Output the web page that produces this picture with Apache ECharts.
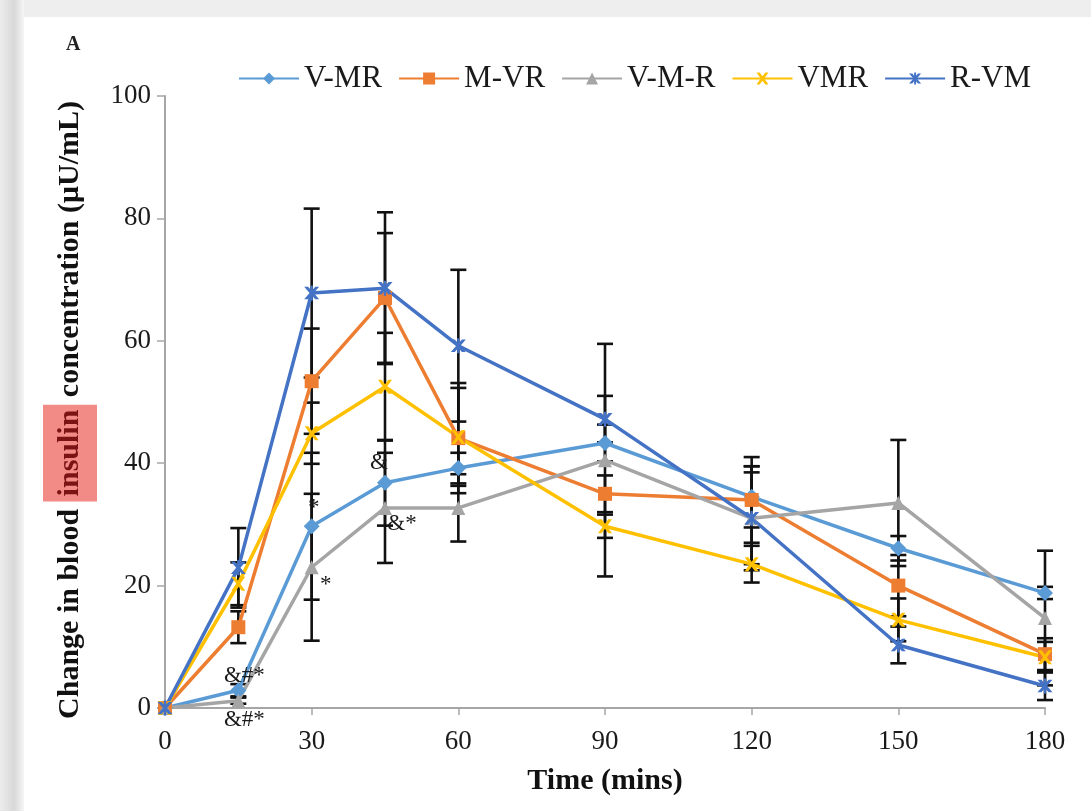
<!DOCTYPE html>
<html>
<head>
<meta charset="utf-8">
<title>Change in blood insulin concentration</title>
<script src="https://cdn.jsdelivr.net/npm/echarts@6/dist/echarts.min.js"></script>
<style>
  html, body { margin: 0; padding: 0; background: #ffffff; }
  #chart { width: 1091px; height: 811px; }
</style>
</head>
<body>
<div id="chart"></div>
<script>
// Sampling times (minutes) and axis ticks
const times = [0, 15, 30, 45, 60, 90, 120, 150, 180];
const xTicks = [0, 30, 60, 90, 120, 150, 180];
const yTicks = [0, 20, 40, 60, 80, 100];

// Group names
const seriesNames = ['V-MR', 'M-VR', 'V-M-R', 'VMR', 'R-VM'];

// Mean change in insulin (µU/mL) per group
const vMR   = [0, 2.9, 29.7, 36.8, 39.2, 43.3, 34.5, 26.1, 18.8];
const mVR   = [0, 13.2, 53.4, 67.0, 44.1, 35.0, 34.0, 20.0, 8.8];
const vMdR  = [0, 1.2, 23.0, 32.7, 32.7, 40.5, 31.0, 33.5, 14.7];
const VMR   = [0, 20.3, 44.9, 52.5, 44.3, 29.7, 23.5, 14.4, 8.3];
const rVM   = [0, 22.9, 67.8, 68.6, 59.2, 47.2, 31.0, 10.3, 3.6];

// Error (±) per group
const vMRErr  = [0, 1.0, 12.0, 7.0, 2.5, 3.0, 5.0, 2.0, 1.0];
const mVRErr  = [0, 2.6, 8.6, 10.6, 9.0, 3.0, 7.0, 5.0, 2.6];
const vMdRErr = [0, 0.5, 12.0, 9.0, 5.5, 19.0, 7.5, 10.3, 11.0];
const VMRErr  = [0, 3.5, 5.0, 8.8, 8.0, 1.9, 3.0, 3.5, 2.5];
const rVMErr  = [0, 6.5, 13.8, 12.4, 12.4, 3.8, 8.5, 3.0, 2.3];

// Significance marks attached to points: [group, time, text]
const marks = [
  ['V-MR', 15, '&#*'],
  ['V-M-R', 15, '&#*'],
  ['V-MR', 30, '*'],
  ['V-M-R', 30, '*'],
  ['V-MR', 45, '&'],
  ['V-M-R', 45, '&*']
];

// ---- presentation ----
const serif = '"Liberation Serif", "DejaVu Serif", serif';
const colors = {
  'V-MR': '#5B9BD5',
  'M-VR': '#ED7D31',
  'V-M-R': '#A5A5A5',
  'VMR': '#FFC000',
  'R-VM': '#4472C4'
};
const xSymbol = 'path://M0,0 L2.6,0 L5,3.2 L7.4,0 L10,0 L6.4,5 L10,10 L7.4,10 L5,6.8 L2.6,10 L0,10 L3.6,5 Z';
const starSymbol = 'path://M0,0 L2.6,0 L5,3.2 L7.4,0 L10,0 L6.4,5 L10,10 L7.4,10 L5,6.8 L2.6,10 L0,10 L3.6,5 Z M4.2,-1 L5.8,-1 L5.8,11 L4.2,11 Z';
const symbols = {
  'V-MR': ['diamond', 16],
  'M-VR': ['rect', 14],
  'V-M-R': ['triangle', 14],
  'VMR': [xSymbol, 14],
  'R-VM': [starSymbol, 15]
};
// label placement for the significance marks (same order as marks)
const markOffsets = [[6, -14], [6, 19], [2, -18], [14, 18], [-6, -20], [17, 16]];

const groups = {
  'V-MR': [vMR, vMRErr],
  'M-VR': [mVR, mVRErr],
  'V-M-R': [vMdR, vMdRErr],
  'VMR': [VMR, VMRErr],
  'R-VM': [rVM, rVMErr]
};

function lineSeries(name) {
  const vals = groups[name][0];
  const data = times.map((t, i) => {
    const item = { value: [t, vals[i]] };
    marks.forEach((m, k) => {
      if (m[0] === name && m[1] === t) {
        item.label = {
          show: true,
          formatter: m[2],
          position: 'inside',
          offset: markOffsets[k],
          fontFamily: serif,
          fontSize: 23,
          color: '#1a1a1a'
        };
      }
    });
    return item;
  });
  return {
    name: name,
    type: 'line',
    data: data,
    symbol: symbols[name][0],
    symbolSize: symbols[name][1],
    color: colors[name],
    lineStyle: { width: 3.5, color: colors[name] },
    itemStyle: { color: colors[name] },
    z: 3
  };
}

function errorSeries(name) {
  const vals = groups[name][0], errs = groups[name][1];
  const data = [];
  times.forEach((t, i) => {
    if (errs[i] > 0) data.push([t, vals[i] - errs[i], vals[i] + errs[i]]);
  });
  return {
    type: 'custom',
    name: name + ' error',
    silent: true,
    z: 2,
    encode: { x: 0, y: [1, 2] },
    data: data,
    renderItem: function (params, api) {
      const lo = api.coord([api.value(0), api.value(1)]);
      const hi = api.coord([api.value(0), api.value(2)]);
      const w = 8;
      const st = { stroke: '#111111', lineWidth: 2.6 };
      return {
        type: 'group',
        children: [
          { type: 'line', shape: { x1: lo[0], y1: lo[1], x2: hi[0], y2: hi[1] }, style: st },
          { type: 'line', shape: { x1: lo[0] - w, y1: lo[1], x2: lo[0] + w, y2: lo[1] }, style: st },
          { type: 'line', shape: { x1: hi[0] - w, y1: hi[1], x2: hi[0] + w, y2: hi[1] }, style: st }
        ]
      };
    }
  };
}

const series = [];
seriesNames.forEach(n => series.push(errorSeries(n)));
seriesNames.forEach(n => series.push(lineSeries(n)));

const chart = echarts.init(document.getElementById('chart'), null, { renderer: 'canvas' });
chart.setOption({
  backgroundColor: '#ffffff',
  animation: false,
  graphic: [
    { type: 'rect', left: 0, top: 0, z: -10, shape: { width: 1091, height: 17 }, style: { fill: '#eeeeee' } },
    {
      type: 'rect', left: 0, top: 0, z: -10, shape: { width: 24, height: 811 },
      style: {
        fill: new echarts.graphic.LinearGradient(0, 0, 1, 0, [
          { offset: 0, color: '#ececec' },
          { offset: 0.6, color: '#d8d8d8' },
          { offset: 1, color: '#f6f6f6' }
        ])
      }
    },
    {
      type: 'text', left: 66, top: 35,
      style: { text: 'A', font: 'bold 20px ' + serif, fill: '#222' }
    }
  ],
  legend: {
    data: seriesNames,
    left: 233,
    top: 58,
    itemWidth: 60,
    itemHeight: 15,
    itemGap: 16,
    textStyle: { fontFamily: serif, fontSize: 31, color: '#1a1a1a' }
  },
  grid: { left: 165, right: 46, top: 96, bottom: 103, containLabel: false },
  xAxis: {
    type: 'value',
    min: xTicks[0],
    max: xTicks[xTicks.length - 1],
    interval: 30,
    name: 'Time (mins)',
    nameLocation: 'middle',
    nameGap: 58,
    nameTextStyle: { fontFamily: serif, fontSize: 30, fontWeight: 'bold', color: '#111' },
    axisLine: { lineStyle: { color: '#a6a6a6', width: 2 } },
    axisTick: { show: true, length: 7, lineStyle: { color: '#a6a6a6', width: 1.5 } },
    axisLabel: { fontFamily: serif, fontSize: 27, color: '#1a1a1a', margin: 20 },
    splitLine: { show: false }
  },
  yAxis: {
    type: 'value',
    min: yTicks[0],
    max: yTicks[yTicks.length - 1],
    interval: 20,
    name: '{a|Change in blood }{hl|insulin}{a| concentration (μU/mL)}',
    nameLocation: 'middle',
    nameGap: 68,
    nameTextStyle: {
      fontFamily: serif, fontSize: 30, fontWeight: 'bold', color: '#111',
      padding: [0, 16, 0, 0],
      rich: {
        a: { fontFamily: serif, fontSize: 30, fontWeight: 'bold', color: '#111' },
        hl: {
          fontFamily: serif, fontSize: 30, fontWeight: 'bold', color: '#7a1414',
          backgroundColor: '#f28a86', padding: [12, 5, 12, 5]
        }
      }
    },
    axisLine: { show: true, lineStyle: { color: '#a6a6a6', width: 2 } },
    axisTick: { show: true, length: 8, lineStyle: { color: '#a6a6a6', width: 1.5 } },
    axisLabel: { fontFamily: serif, fontSize: 27, color: '#1a1a1a', margin: 14 },
    splitLine: { show: false }
  },
  series: series
});
</script>
</body>
</html>
